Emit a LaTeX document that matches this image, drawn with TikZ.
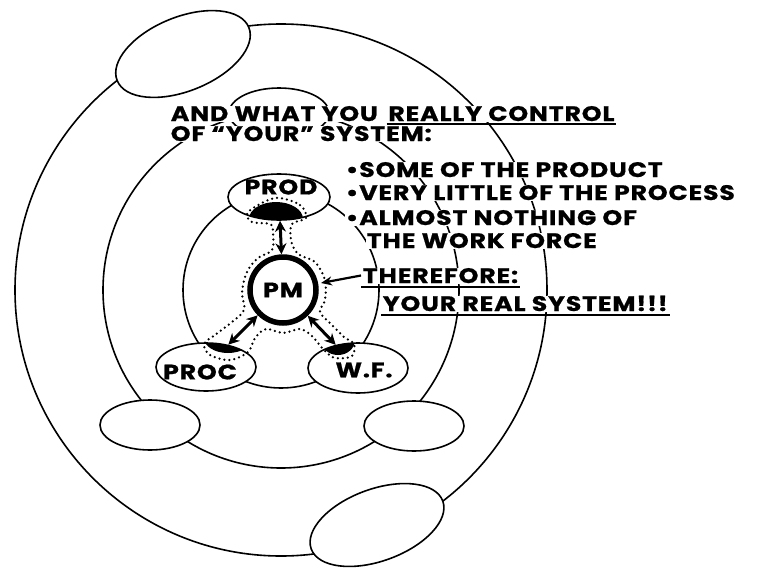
\documentclass[tikz,border=0pt]{standalone}
\usepackage{fontspec}
\setmainfont{Poppins}
\newfontfamily\spacedfont{Poppins}[FakeStretch=1.2,LetterSpace=4,BoldFeatures={FakeBold=0.8}]
\usetikzlibrary{arrows.meta,shapes.geometric}

\tikzset{
  blob/.style={ellipse,draw,fill=white,inner sep=0pt},
  txt/.style={anchor=base west,fill=white,inner xsep=1pt,inner ysep=0.5pt,text height=15pt,text depth=0pt,
    font=\spacedfont\fontsize{21}{24}\selectfont\bfseries},
  lbl/.style={inner sep=0pt,font=\spacedfont\fontsize{21}{24}\selectfont\bfseries},
  link/.style={{Stealth[length=11pt,width=11pt]}-{Stealth[length=11pt,width=11pt]},line width=3pt},
  dots/.style={line width=2.5pt,line cap=round,dash pattern=on 0pt off 5pt}
}

\begin{document}
\begin{tikzpicture}[x=1pt,y=-1pt,line width=1.6pt]
\useasboundingbox (0,0) rectangle (761,568);
\coordinate (c) at (281,290);
% the three rings
\draw (c) circle[radius=98];
\draw (c) circle[radius=178];
\draw (c) circle[radius=266];
% outer ring
\node[blob,minimum width=142pt,minimum height=74pt,rotate=22] (otop) at (183,54) {};
\node[blob,minimum width=140pt,minimum height=72pt,rotate=20] (obot) at (377,525) {};
% middle ring
\node[blob,minimum width=100pt,minimum height=50pt] (mtop) at (279,113) {};
\node[blob,minimum width=100pt,minimum height=50pt] (mleft) at (150,425) {};
\node[blob,minimum width=100pt,minimum height=50pt] (mright) at (414,426) {};
% inner ring
\node[blob,minimum width=102pt,minimum height=46pt] (prod) at (279,197) {};
\node[blob,minimum width=100pt,minimum height=48pt] (proc) at (206,367) {};
\node[blob,minimum width=100pt,minimum height=50pt] (wf) at (358,368) {};
\begin{scope}
  \clip (279,197) ellipse (51 and 23);
  \fill (276,219) ellipse (27 and 17);
\end{scope}
\begin{scope}
  \clip (206,367) ellipse (50 and 24);
  \fill (228,338) ellipse (24 and 15);
\end{scope}
\begin{scope}
  \clip (358,368) ellipse (50 and 25);
  \fill (338,340) ellipse (17 and 15);
\end{scope}
\node[lbl] (prodtxt) at (281,187) {PROD};
\node[lbl] (proctxt) at (200,372) {PROC};
\node[lbl] (wftxt) at (364,370) {W.F.};
% what is really held
\draw[dots] plot[smooth cycle,tension=0.55] coordinates {
  (275,198) (300,205) (306,218) (292,224) (291,240) (298,254) (315,262)
  (325,280) (325,300) (320,312) (332,325) (344,337) (354,344) (352,356)
  (335,358) (324,350) (312,336) (300,329) (283,333) (266,329) (255,338)
  (248,352) (230,360) (210,355) (204,344) (215,335) (232,322) (244,310)
  (242,292) (247,272) (258,258) (272,250) (273,232) (270,224) (252,222)
  (248,212)};
\node[circle,draw,fill=white,line width=5.5pt,minimum size=66pt,lbl] (pm) at (283,290) {PM};
\draw[link] (pm) -- (prod);
\draw[link] (pm) -- (proc);
\draw[link] (pm) -- (wf);
% text
\node[txt] (l1a) at (169,121) {AND WHAT YOU};
\node[txt] (l1b) at ([xshift=7pt]l1a.base east) {REALLY CONTROL};
\node[txt] (l2) at (169,141) {OF “YOUR” SYSTEM:};
\node[txt] (l3) at (344,177) {•SOME OF THE PRODUCT};
\node[txt] (l4) at (344,200) {•VERY LITTLE OF THE PROCESS};
\node[txt] (l5) at (344,225) {•ALMOST NOTHING OF};
\node[txt] (l6) at (365,248) {THE WORK FORCE};
\node[txt] (thf) at (361,283) {THEREFORE:};
\node[txt] (real) at (381,311) {YOUR REAL SYSTEM!!!};
\draw ([yshift=-3pt]l1b.base west) -- ([yshift=-3pt]l1b.base east);
\draw ([yshift=-4pt]thf.base west) -- ([yshift=-4pt]thf.base east);
\draw ([yshift=-4pt]real.base west) -- ([yshift=-4pt]real.base east);
\coordinate (pmtip) at (321,283);
\draw[-{Stealth[length=11pt,width=9pt]},line width=2.2pt] (thf.west) -- (pmtip);
\end{tikzpicture}
\end{document}
